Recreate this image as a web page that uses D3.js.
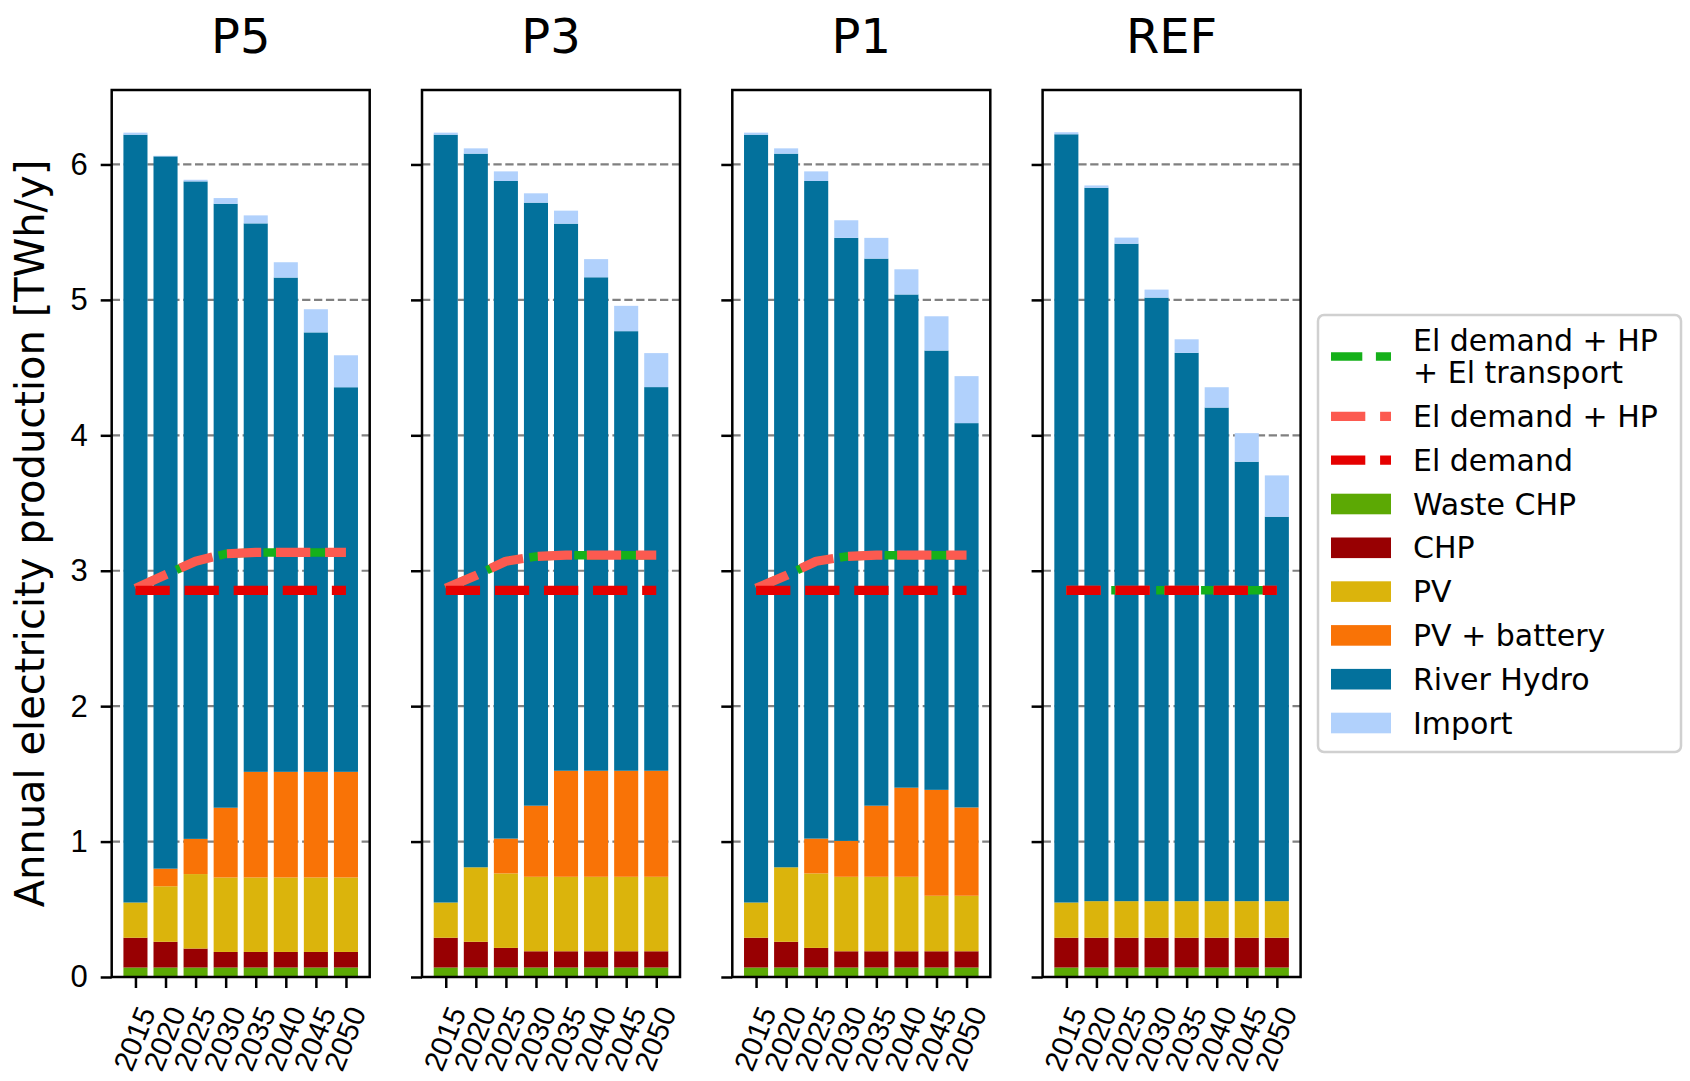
<!DOCTYPE html>
<html>
<head>
<meta charset="utf-8">
<script src="https://cdn.jsdelivr.net/npm/d3@7"></script>
<style>
  body { margin: 0; background: #fff; }
  svg { font-family: "DejaVu Sans", sans-serif; }
</style>
</head>
<body>
<svg id="chart" width="1690" height="1081"></svg>
<script>
// Data (TWh/y)
const years = ["2015", "2020", "2025", "2030", "2035", "2040", "2045", "2050"];
const scenarios = ["P5", "P3", "P1", "REF"];

const wasteChp = {
  P5:  [0.07, 0.07, 0.07, 0.07, 0.07, 0.07, 0.07, 0.07],
  P3:  [0.07, 0.07, 0.07, 0.07, 0.07, 0.07, 0.07, 0.07],
  P1:  [0.07, 0.07, 0.07, 0.07, 0.07, 0.07, 0.07, 0.07],
  REF: [0.07, 0.07, 0.07, 0.07, 0.07, 0.07, 0.07, 0.07]
};
const chp = {
  P5:  [0.22, 0.19, 0.14, 0.115, 0.115, 0.115, 0.115, 0.115],
  P3:  [0.22, 0.19, 0.145, 0.12, 0.12, 0.12, 0.12, 0.12],
  P1:  [0.22, 0.19, 0.145, 0.12, 0.12, 0.12, 0.12, 0.12],
  REF: [0.22, 0.22, 0.22, 0.22, 0.22, 0.22, 0.22, 0.22]
};
const pv = {
  P5:  [0.26, 0.41, 0.55, 0.55, 0.55, 0.55, 0.55, 0.55],
  P3:  [0.26, 0.55, 0.55, 0.55, 0.55, 0.55, 0.55, 0.55],
  P1:  [0.26, 0.55, 0.55, 0.55, 0.55, 0.55, 0.41, 0.41],
  REF: [0.26, 0.27, 0.27, 0.27, 0.27, 0.27, 0.27, 0.27]
};
const pvBattery = {
  P5:  [0, 0.13, 0.26, 0.515, 0.78, 0.78, 0.78, 0.78],
  P3:  [0, 0, 0.257, 0.525, 0.783, 0.783, 0.783, 0.783],
  P1:  [0, 0, 0.257, 0.265, 0.525, 0.658, 0.782, 0.652],
  REF: [0, 0, 0, 0, 0, 0, 0, 0]
};
const riverHydro = {
  P5:  [5.67, 5.26, 4.855, 4.46, 4.05, 3.65, 3.245, 2.84],
  P3:  [5.67, 5.27, 4.856, 4.453, 4.04, 3.644, 3.246, 2.833],
  P1:  [5.67, 5.27, 4.856, 4.453, 4.04, 3.642, 3.244, 2.838],
  REF: [5.673, 5.268, 4.855, 4.457, 4.049, 3.645, 3.245, 2.839]
};
const importEl = {
  P5:  [0.015, 0.004, 0.012, 0.042, 0.059, 0.113, 0.171, 0.236],
  P3:  [0.015, 0.039, 0.071, 0.069, 0.096, 0.134, 0.187, 0.251],
  P1:  [0.015, 0.039, 0.071, 0.13, 0.153, 0.186, 0.253, 0.347],
  REF: [0.015, 0.017, 0.045, 0.059, 0.10, 0.15, 0.211, 0.305]
};

const demandHpTransport = {
  P5:  [2.87, 2.97, 3.07, 3.125, 3.135, 3.135, 3.135, 3.135],
  P3:  [2.87, 2.965, 3.07, 3.105, 3.115, 3.115, 3.115, 3.115],
  P1:  [2.87, 2.965, 3.07, 3.105, 3.115, 3.115, 3.115, 3.115],
  REF: [2.855, 2.855, 2.855, 2.855, 2.855, 2.855, 2.855, 2.855]
};
const demandHp = {
  P5:  [2.87, 2.97, 3.07, 3.125, 3.135, 3.135, 3.135, 3.135],
  P3:  [2.87, 2.965, 3.07, 3.105, 3.115, 3.115, 3.115, 3.115],
  P1:  [2.87, 2.965, 3.07, 3.105, 3.115, 3.115, 3.115, 3.115],
  REF: [2.855, 2.855, 2.855, 2.855, 2.855, 2.855, 2.855, 2.855]
};
const demandEl = {
  P5:  [2.855, 2.855, 2.855, 2.855, 2.855, 2.855, 2.855, 2.855],
  P3:  [2.855, 2.855, 2.855, 2.855, 2.855, 2.855, 2.855, 2.855],
  P1:  [2.855, 2.855, 2.855, 2.855, 2.855, 2.855, 2.855, 2.855],
  REF: [2.855, 2.855, 2.855, 2.855, 2.855, 2.855, 2.855, 2.855]
};

const barSeries = [
  { key: "waste", label: "Waste CHP", color: "#5ca904", values: wasteChp },
  { key: "chp", label: "CHP", color: "#980002", values: chp },
  { key: "pv", label: "PV", color: "#dbb40c", values: pv },
  { key: "pvBat", label: "PV + battery", color: "#f97306", values: pvBattery },
  { key: "hydro", label: "River Hydro", color: "#03719c", values: riverHydro },
  { key: "imp", label: "Import", color: "#b1d1fc", values: importEl }
];
const lineSeries = [
  { label: ["El demand + HP", "+ El transport"], color: "#15b01a", width: 8.5, dash: "31.3,13.6", values: demandHpTransport },
  { label: ["El demand + HP"], color: "#fc5a50", width: 9.2, dash: "34.3,14.8", values: demandHp },
  { label: ["El demand"], color: "#e50000", width: 9.2, dash: "34.3,14.8", values: demandEl }
];

// Layout
const plotTop = 90, plotBottom = 977;
const panelX0 = 111.7, panelStep = 310.3, panelW = 258;

const svg = d3.select("#chart");

const totals = scenarios.flatMap(s =>
  years.map((_, i) => d3.sum(barSeries, d => d.values[s][i])));

const y = d3.scaleLinear()
  .domain([0, d3.max(totals) * 1.05])
  .range([plotBottom, plotTop]);

const x = d3.scaleLinear()
  .domain([-0.79, 7.79])
  .range([0, panelW]);

const barW = x(0.8) - x(0);
const stack = d3.stack().keys(barSeries.map(d => d.key));
const colorOf = Object.fromEntries(barSeries.map(d => [d.key, d.color]));

scenarios.forEach((s, pi) => {
  const g = svg.append("g")
    .attr("transform", `translate(${panelX0 + pi * panelStep},0)`);

  // grid
  g.selectAll(".grid")
    .data(d3.range(1, 7))
    .enter().append("line")
    .attr("x1", 0).attr("x2", panelW)
    .attr("y1", d => y(d)).attr("y2", d => y(d))
    .attr("stroke", "#808080")
    .attr("stroke-width", 2.2)
    .attr("stroke-dasharray", "8.3,3.6");

  // stacked bars
  const rows = years.map((yr, i) => {
    const r = { i };
    barSeries.forEach(b => { r[b.key] = b.values[s][i]; });
    return r;
  });
  const layers = stack(rows);

  g.selectAll(".layer")
    .data(layers)
    .enter().append("g")
    .attr("fill", d => colorOf[d.key])
    .selectAll("rect")
    .data(d => d)
    .enter().append("rect")
    .attr("x", d => x(d.data.i) - barW / 2)
    .attr("width", barW)
    .attr("y", d => y(d[1]))
    .attr("height", d => y(d[0]) - y(d[1]));

  // demand lines
  const line = d3.line()
    .x((d, i) => x(i))
    .y(d => y(d));

  lineSeries.forEach(ls => {
    g.append("path")
      .attr("d", line(ls.values[s]))
      .attr("fill", "none")
      .attr("stroke", ls.color)
      .attr("stroke-width", ls.width)
      .attr("stroke-dasharray", ls.dash)
      .attr("stroke-linejoin", "round")
      .attr("stroke-linecap", "butt");
  });

  // y axis
  const yAxis = g.append("g")
    .call(d3.axisLeft(y)
      .tickValues(d3.range(0, 7))
      .tickSize(11)
      .tickPadding(13)
      .tickFormat(pi === 0 ? d3.format("d") : () => ""));
  yAxis.select(".domain").remove();
  yAxis.selectAll("line").attr("stroke", "#000").attr("stroke-width", 2.5);
  yAxis.selectAll("text").attr("font-size", 31).attr("fill", "#000");

  // x axis
  const xAxis = g.append("g")
    .attr("transform", `translate(0,${plotBottom})`)
    .call(d3.axisBottom(x)
      .tickValues(d3.range(years.length))
      .tickSize(11)
      .tickFormat(i => years[i]));
  xAxis.select(".domain").remove();
  xAxis.selectAll("line").attr("stroke", "#000").attr("stroke-width", 2.5);
  const ang = 68 * Math.PI / 180;
  const xfs = 29.5;
  xAxis.selectAll("text")
    .attr("font-size", xfs)
    .attr("fill", "#000")
    .attr("text-anchor", "end")
    .attr("y", 0).attr("dy", 0)
    .attr("transform", function() {
      const L = this.getComputedTextLength();
      const a = 0.73 * xfs;
      const ox = (L * Math.cos(ang) + a * Math.sin(ang)) / 2 - 2;
      const oy = 27 + a * Math.cos(ang);
      return `translate(${ox},${oy}) rotate(-68)`;
    });

  // frame
  g.append("rect")
    .attr("x", 0).attr("y", plotTop)
    .attr("width", panelW).attr("height", plotBottom - plotTop)
    .attr("fill", "none")
    .attr("stroke", "#000")
    .attr("stroke-width", 2.5);

  // title
  g.append("text")
    .attr("x", panelW / 2)
    .attr("y", 53)
    .attr("text-anchor", "middle")
    .attr("font-size", 48)
    .text(s);
});

// y label
svg.append("text")
  .attr("transform", `translate(44,${(plotTop + plotBottom) / 2}) rotate(-90)`)
  .attr("text-anchor", "middle")
  .attr("font-size", 40)
  .text("Annual electricity production [TWh/y]");

// legend
const legend = svg.append("g").attr("transform", "translate(1318,315)");
legend.append("rect")
  .attr("width", 363).attr("height", 437)
  .attr("rx", 6).attr("ry", 6)
  .attr("fill", "#fff")
  .attr("stroke", "#d0d0d0")
  .attr("stroke-width", 2.5);

const legendItems = [
  ...lineSeries.map(d => ({ type: "line", ...d })),
  ...barSeries.map(d => ({ type: "patch", label: [d.label], color: d.color }))
];

const lineH = 32.4, rowGap = 11.4;
let cy = 9;
legendItems.forEach(item => {
  const h = item.label.length * lineH;
  const mid = cy + h / 2;
  if (item.type === "line") {
    legend.append("line")
      .attr("x1", 13).attr("x2", 73)
      .attr("y1", mid).attr("y2", mid)
      .attr("stroke", item.color)
      .attr("stroke-width", item.width)
      .attr("stroke-dasharray", item.dash);
  } else {
    legend.append("rect")
      .attr("x", 13).attr("y", mid - 10.3)
      .attr("width", 60).attr("height", 20.6)
      .attr("fill", item.color);
  }
  const t = legend.append("text")
    .attr("font-size", 30)
    .attr("x", 95);
  item.label.forEach((ln, k) => {
    t.append("tspan")
      .attr("x", 95)
      .attr("y", mid - (item.label.length - 1) * lineH / 2 + k * lineH + 10.5)
      .text(ln);
  });
  cy += h + rowGap;
});
</script>
</body>
</html>
